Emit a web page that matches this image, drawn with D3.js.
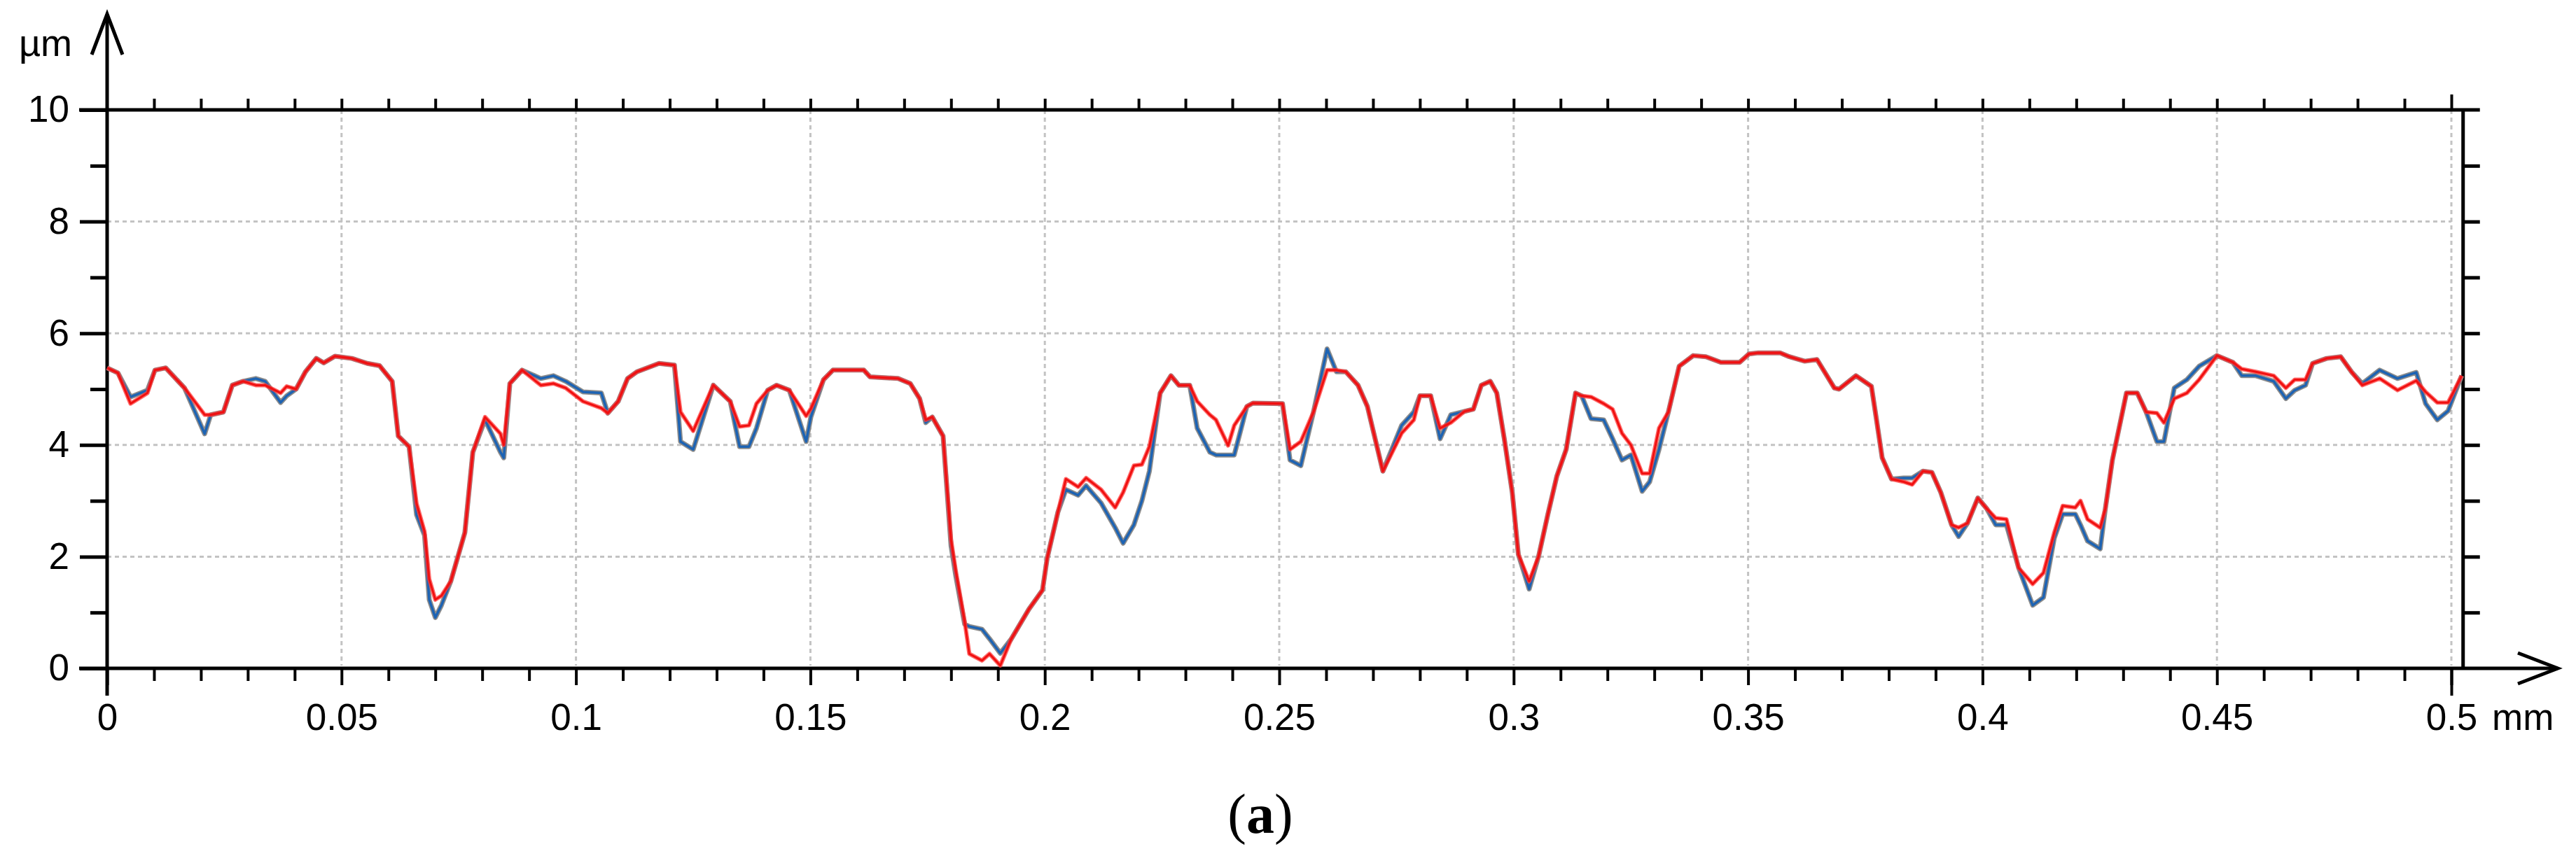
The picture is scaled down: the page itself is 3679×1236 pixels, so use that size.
<!DOCTYPE html>
<html>
<head>
    <script src="https://d3js.org/d3.v7.min.js"></script>
    <style>
        body { margin: 0; background: #fff; }
        svg { display: block; }
    </style>
</head>
<body>
    <div id="chart"></div>

    <script>
        // Profile positions along the trace (mm)
        const xMm = [
            0.0000, 0.0023, 0.0050, 0.0086, 0.0102, 0.0125, 0.0165, 0.0208, 0.0221, 0.0248,
            0.0267, 0.0290, 0.0317, 0.0337, 0.0370, 0.0383, 0.0403, 0.0423, 0.0446, 0.0462,
            0.0486, 0.0522, 0.0555, 0.0581, 0.0608, 0.0621, 0.0644, 0.0660, 0.0677, 0.0687,
            0.0700, 0.0713, 0.0733, 0.0763, 0.0780, 0.0806, 0.0839, 0.0846, 0.0859, 0.0885,
            0.0925, 0.0952, 0.0978, 0.1015, 0.1054, 0.1068, 0.1090, 0.1110, 0.1130, 0.1177,
            0.1210, 0.1223, 0.1250, 0.1293, 0.1329, 0.1349, 0.1369, 0.1385, 0.1409, 0.1428,
            0.1455, 0.1491, 0.1501, 0.1528, 0.1548, 0.1614, 0.1627, 0.1687, 0.1713, 0.1733,
            0.1746, 0.1760, 0.1783, 0.1800, 0.1810, 0.1829, 0.1839, 0.1866, 0.1882, 0.1905,
            0.1928, 0.1966, 0.1995, 0.2005, 0.2028, 0.2045, 0.2071, 0.2088, 0.2120, 0.2150,
            0.2167, 0.2190, 0.2207, 0.2223, 0.2246, 0.2269, 0.2286, 0.2309, 0.2325, 0.2352,
            0.2365, 0.2391, 0.2404, 0.2431, 0.2444, 0.2507, 0.2523, 0.2546, 0.2573, 0.2602,
            0.2622, 0.2642, 0.2668, 0.2688, 0.2721, 0.2761, 0.2787, 0.2800, 0.2823, 0.2843,
            0.2866, 0.2895, 0.2914, 0.2931, 0.2950, 0.2964, 0.2980, 0.2997, 0.3010, 0.3033,
            0.3053, 0.3073, 0.3092, 0.3112, 0.3132, 0.3145, 0.3165, 0.3192, 0.3211, 0.3231,
            0.3250, 0.3274, 0.3290, 0.3310, 0.3330, 0.3353, 0.3383, 0.3410, 0.3442, 0.3482,
            0.3502, 0.3522, 0.3568, 0.3588, 0.3621, 0.3647, 0.3684, 0.3694, 0.3730, 0.3763,
            0.3773, 0.3786, 0.3806, 0.3832, 0.3850, 0.3873, 0.3892, 0.3911, 0.3934, 0.3949,
            0.3968, 0.3990, 0.4009, 0.4028, 0.4051, 0.4077, 0.4107, 0.4130, 0.4153, 0.4171,
            0.4198, 0.4209, 0.4224, 0.4251, 0.4262, 0.4277, 0.4307, 0.4330, 0.4349, 0.4372,
            0.4387, 0.4409, 0.4436, 0.4462, 0.4500, 0.4534, 0.4553, 0.4583, 0.4621, 0.4647,
            0.4666, 0.4689, 0.4704, 0.4734, 0.4764, 0.4787, 0.4810, 0.4847, 0.4885, 0.4925,
            0.4945, 0.4970, 0.4993, 0.5022
        ];

        // Measured profile (blue), µm
        const profileBlue = [
            5.38, 5.29, 4.86, 4.98, 5.34, 5.38, 5.02, 4.20, 4.54, 4.59,
            5.07, 5.14, 5.19, 5.14, 4.76, 4.88, 5.00, 5.31, 5.55, 5.47,
            5.59, 5.55, 5.46, 5.42, 5.14, 4.16, 3.97, 2.75, 2.38, 1.23,
            0.91, 1.13, 1.56, 2.43, 3.87, 4.45, 3.87, 3.77, 5.10, 5.34,
            5.19, 5.24, 5.14, 4.95, 4.93, 4.57, 4.78, 5.19, 5.31, 5.46,
            5.43, 4.06, 3.92, 5.07, 4.78, 3.97, 3.97, 4.30, 4.98, 5.07,
            4.98, 4.06, 4.50, 5.17, 5.34, 5.34, 5.22, 5.19, 5.10, 4.83,
            4.40, 4.50, 4.16, 2.19, 1.66, 0.79, 0.75, 0.70, 0.53, 0.27,
            0.52, 1.06, 1.40, 1.97, 2.80, 3.20, 3.10, 3.27, 2.96, 2.52,
            2.24, 2.57, 3.00, 3.53, 4.93, 5.24, 5.07, 5.07, 4.30, 3.87,
            3.82, 3.82, 3.82, 4.69, 4.75, 4.74, 3.73, 3.63, 4.59, 5.72,
            5.31, 5.31, 5.07, 4.69, 3.53, 4.35, 4.59, 4.88, 4.88, 4.11,
            4.54, 4.60, 4.64, 5.07, 5.14, 4.93, 4.11, 3.15, 2.04, 1.42,
            2.00, 2.76, 3.44, 3.92, 4.93, 4.88, 4.47, 4.45, 4.11, 3.73,
            3.82, 3.17, 3.34, 3.92, 4.59, 5.41, 5.60, 5.58, 5.48, 5.48,
            5.63, 5.65, 5.65, 5.58, 5.50, 5.53, 5.02, 5.00, 5.24, 5.05,
            4.50, 3.77, 3.39, 3.41, 3.41, 3.53, 3.51, 3.15, 2.57, 2.36,
            2.60, 3.05, 2.86, 2.57, 2.57, 1.80, 1.13, 1.27, 2.33, 2.76,
            2.76, 2.57, 2.28, 2.14, 2.86, 3.73, 4.93, 4.93, 4.59, 4.06,
            4.06, 5.02, 5.17, 5.41, 5.60, 5.48, 5.24, 5.24, 5.14, 4.83,
            4.98, 5.07, 5.46, 5.55, 5.58, 5.31, 5.10, 5.34, 5.19, 5.30,
            4.74, 4.45, 4.61, 5.24
        ];

        // Reconstructed profile (red), µm
        const profileRed = [
            5.38, 5.29, 4.74, 4.93, 5.34, 5.38, 5.02, 4.54, 4.54, 4.59,
            5.07, 5.14, 5.07, 5.07, 4.93, 5.05, 5.00, 5.31, 5.55, 5.47,
            5.59, 5.55, 5.46, 5.42, 5.14, 4.16, 3.97, 2.95, 2.45, 1.60,
            1.23, 1.30, 1.56, 2.43, 3.87, 4.50, 4.20, 4.00, 5.10, 5.34,
            5.07, 5.10, 5.02, 4.78, 4.66, 4.57, 4.78, 5.19, 5.31, 5.46,
            5.43, 4.59, 4.25, 5.07, 4.78, 4.33, 4.35, 4.74, 4.98, 5.07,
            4.98, 4.52, 4.65, 5.17, 5.34, 5.34, 5.22, 5.19, 5.10, 4.83,
            4.45, 4.50, 4.16, 2.30, 1.75, 0.84, 0.26, 0.14, 0.26, 0.05,
            0.52, 1.06, 1.40, 1.97, 2.80, 3.39, 3.25, 3.41, 3.20, 2.88,
            3.15, 3.63, 3.65, 3.97, 4.93, 5.24, 5.07, 5.07, 4.78, 4.54,
            4.45, 3.99, 4.35, 4.69, 4.75, 4.74, 3.92, 4.06, 4.59, 5.34,
            5.34, 5.31, 5.07, 4.69, 3.53, 4.21, 4.45, 4.88, 4.88, 4.30,
            4.40, 4.60, 4.64, 5.07, 5.14, 4.93, 4.11, 3.15, 2.04, 1.56,
            2.00, 2.76, 3.44, 3.92, 4.93, 4.88, 4.86, 4.74, 4.64, 4.21,
            4.00, 3.49, 3.49, 4.30, 4.59, 5.41, 5.60, 5.58, 5.48, 5.48,
            5.63, 5.65, 5.65, 5.58, 5.50, 5.53, 5.02, 5.00, 5.24, 5.05,
            4.50, 3.77, 3.39, 3.34, 3.29, 3.53, 3.51, 3.15, 2.57, 2.52,
            2.60, 3.05, 2.86, 2.69, 2.67, 1.80, 1.51, 1.71, 2.43, 2.91,
            2.88, 3.00, 2.67, 2.52, 2.86, 3.73, 4.93, 4.93, 4.59, 4.57,
            4.40, 4.83, 4.93, 5.17, 5.60, 5.48, 5.36, 5.31, 5.24, 5.02,
            5.17, 5.17, 5.46, 5.55, 5.58, 5.31, 5.07, 5.19, 4.98, 5.15,
            4.95, 4.76, 4.76, 5.24
        ];

        // Axis ticks
        const xMajorTicks = [0, 0.05, 0.1, 0.15, 0.2, 0.25, 0.3, 0.35, 0.4, 0.45, 0.5];
        const xTickLabels = ["0", "0.05", "0.1", "0.15", "0.2", "0.25", "0.3", "0.35", "0.4", "0.45", "0.5"];
        const xMinorTicks = [0.01, 0.02, 0.03, 0.04, 0.06, 0.07, 0.08, 0.09, 0.11, 0.12, 0.13, 0.14,
            0.16, 0.17, 0.18, 0.19, 0.21, 0.22, 0.23, 0.24, 0.26, 0.27, 0.28, 0.29, 0.31, 0.32,
            0.33, 0.34, 0.36, 0.37, 0.38, 0.39, 0.41, 0.42, 0.43, 0.44, 0.46, 0.47, 0.48, 0.49];
        const yMajorTicks = [0, 2, 4, 6, 8, 10];
        const yMinorTicks = [1, 3, 5, 7, 9];
        const yRightTicks = [1, 2, 3, 4, 5, 6, 7, 8, 9];
        const xEnd = 0.5025; // right frame of the plot

        const W = 3679, H = 1236;
        const FONT = "'Liberation Sans', Arial, sans-serif";

        const svg = d3.select("#chart").append("svg")
            .attr("width", W)
            .attr("height", H);

        svg.append("rect").attr("width", W).attr("height", H).attr("fill", "#fff");

        const x = d3.scaleLinear().domain([0, 0.5]).range([153, 3501]);
        const y = d3.scaleLinear().domain([0, 10]).range([955, 157]);

        // dotted grid
        const grid = svg.append("g")
            .attr("stroke", "#c3c3c3")
            .attr("stroke-width", 3)
            .attr("stroke-dasharray", "6,5");

        grid.selectAll("line.v")
            .data(xMajorTicks.slice(1))
            .enter().append("line")
            .attr("x1", d => x(d)).attr("x2", d => x(d))
            .attr("y1", y(10)).attr("y2", y(0) - 4);

        grid.selectAll("line.h")
            .data(yMajorTicks.slice(1, -1))
            .enter().append("line")
            .attr("class", "h")
            .attr("x1", x(0)).attr("x2", x(0.5))
            .attr("y1", d => y(d)).attr("y2", d => y(d));

        // helper to restyle d3 axes
        function styleAxis(g, width) {
            g.select(".domain").remove();
            g.selectAll(".tick line").attr("stroke", "#000").attr("stroke-width", width);
            g.selectAll("text")
                .attr("fill", "#000")
                .style("font-family", FONT)
                .style("font-size", "53px");
        }

        // bottom axis
        svg.append("g")
            .attr("transform", `translate(0,${y(0)})`)
            .call(d3.axisBottom(x).tickValues(xMinorTicks).tickSize(18).tickFormat(""))
            .call(g => styleAxis(g, 4));

        svg.append("g")
            .attr("transform", `translate(0,${y(0)})`)
            .call(d3.axisBottom(x).tickValues(xMajorTicks).tickSize(24).tickPadding(26)
                .tickFormat((d, i) => xTickLabels[i]))
            .call(g => styleAxis(g, 4));

        svg.append("g")
            .attr("transform", `translate(0,${y(0)})`)
            .call(d3.axisBottom(x).tickValues([0.5]).tickSize(39).tickFormat(""))
            .call(g => styleAxis(g, 4));

        // top frame ticks
        svg.append("g")
            .attr("transform", `translate(0,${y(10)})`)
            .call(d3.axisTop(x).tickValues(xMinorTicks.concat(xMajorTicks.slice(1, -1))).tickSize(16).tickFormat(""))
            .call(g => styleAxis(g, 4));

        svg.append("g")
            .attr("transform", `translate(0,${y(10)})`)
            .call(d3.axisTop(x).tickValues([0.5]).tickSize(22).tickFormat(""))
            .call(g => styleAxis(g, 4));

        // left axis
        svg.append("g")
            .attr("transform", `translate(${x(0)},0)`)
            .call(d3.axisLeft(y).tickValues(yMajorTicks).tickSize(39).tickPadding(15))
            .call(g => styleAxis(g, 5));

        svg.append("g")
            .attr("transform", `translate(${x(0)},0)`)
            .call(d3.axisLeft(y).tickValues(yMinorTicks).tickSize(24).tickFormat(""))
            .call(g => styleAxis(g, 5));

        // right frame ticks
        svg.append("g")
            .attr("transform", `translate(${x(xEnd)},0)`)
            .call(d3.axisRight(y).tickValues(yRightTicks).tickSize(24).tickFormat(""))
            .call(g => styleAxis(g, 5));

        // frame, axes and arrows
        const frame = svg.append("g")
            .attr("stroke", "#000")
            .attr("fill", "none")
            .attr("stroke-width", 5);

        frame.append("line")
            .attr("x1", x(0) - 40).attr("x2", x(xEnd) + 24)
            .attr("y1", y(10)).attr("y2", y(10));
        frame.append("line")
            .attr("x1", x(xEnd)).attr("x2", x(xEnd))
            .attr("y1", y(10)).attr("y2", y(0));
        frame.append("line")
            .attr("x1", x(0) - 40).attr("x2", 3653)
            .attr("y1", y(0)).attr("y2", y(0));
        frame.append("line")
            .attr("x1", x(0)).attr("x2", x(0))
            .attr("y1", 22).attr("y2", y(0) + 39);

        frame.append("polyline")
            .attr("stroke-linejoin", "miter")
            .attr("points", `${x(0) - 22},78 ${x(0)},20 ${x(0) + 22},78`);
        frame.append("polyline")
            .attr("stroke-linejoin", "miter")
            .attr("points", `3596,${y(0) - 22} 3653,${y(0)} 3596,${y(0) + 22}`);

        // profile lines
        const blueData = xMm.map((d, i) => ({ x: d, v: profileBlue[i] }));
        const redData = xMm.map((d, i) => ({ x: d, v: profileRed[i] }));

        const line = d3.line()
            .x(d => x(d.x))
            .y(d => y(d.v));

        svg.append("path")
            .datum(blueData)
            .attr("d", line)
            .attr("fill", "none")
            .attr("stroke", "#8c8c8c")
            .attr("stroke-width", 7)
            .attr("stroke-linejoin", "round");

        svg.append("path")
            .datum(blueData)
            .attr("d", line)
            .attr("fill", "none")
            .attr("stroke", "#1d63b3")
            .attr("stroke-width", 3.5)
            .attr("stroke-linejoin", "round");

        svg.append("path")
            .datum(redData)
            .attr("d", line)
            .attr("fill", "none")
            .attr("stroke", "#ff3b3b")
            .attr("stroke-opacity", 0.75)
            .attr("stroke-width", 6)
            .attr("stroke-linejoin", "round");

        svg.append("path")
            .datum(redData)
            .attr("d", line)
            .attr("fill", "none")
            .attr("stroke", "#f01010")
            .attr("stroke-width", 3)
            .attr("stroke-linejoin", "round");

        // unit labels
        svg.append("text")
            .attr("x", 27).attr("y", 80)
            .style("font-family", FONT)
            .style("font-size", "54px")
            .text("µm");

        svg.append("text")
            .attr("x", 3559).attr("y", y(0) + 50)
            .attr("dy", "0.71em")
            .style("font-family", FONT)
            .style("font-size", "53px")
            .text("mm");

        // panel caption
        const cap = svg.append("text")
            .attr("x", 1800).attr("y", 1190)
            .attr("text-anchor", "middle")
            .style("font-family", "'Liberation Serif', 'Times New Roman', serif")
            .style("font-size", "80px");
        cap.append("tspan").text("(");
        cap.append("tspan").style("font-weight", "bold").text("a");
        cap.append("tspan").text(")");
    </script>
</body>
</html>
